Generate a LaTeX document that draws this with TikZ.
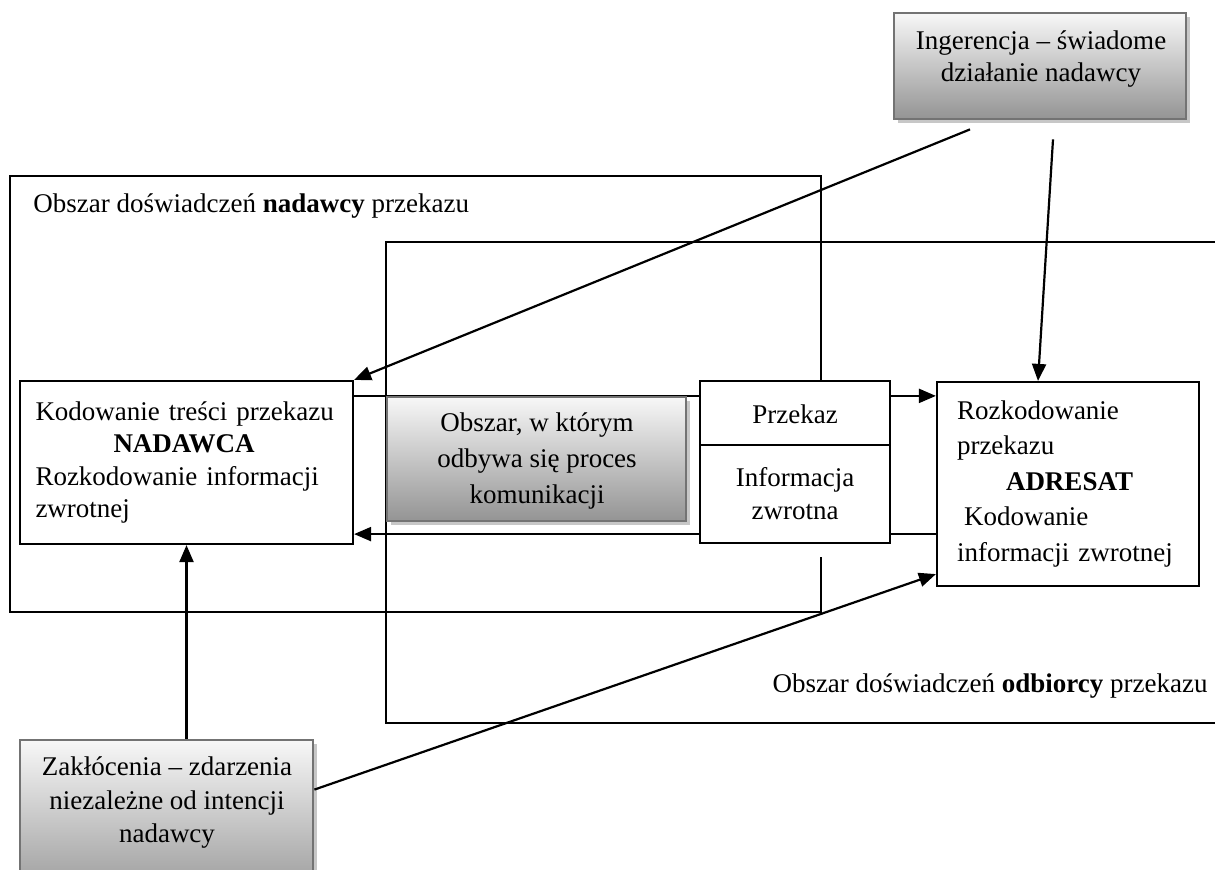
\documentclass[tikz,border=0pt]{standalone}
\usepackage{fontspec}
\setmainfont{Liberation Serif}
\usetikzlibrary{arrows.meta,calc,shadows}
\pgfdeclarelayer{back}
\pgfsetlayers{back,main}
\begin{document}
\begin{tikzpicture}[x=0.5pt,y=-0.5pt,
  ln/.style={line width=1.1pt},
  arr/.style={line width=1.1pt,-{Triangle[length=8.5pt,width=7pt]}},
  wbox/.style={draw,line width=1.1pt,fill=white,inner sep=0pt},
  gbox/.style={draw=black!55,line width=1.4pt,inner sep=0pt,top color=black!3,bottom color=black!42,
    drop shadow={shadow xshift=2.2pt,shadow yshift=-2.2pt,fill=black!22,opacity=1}},
  txt/.style={inner sep=0pt},
  f/.style={font=\fontsize{13.5}{#1}\selectfont,
    execute at begin node={\baselineskip=#1pt\relax}}
]
\useasboundingbox (0,0) rectangle (1215,870);
\clip (0,0) rectangle (1215,870);

% white boxes
\node[wbox,f=16.25,minimum width=166.5pt,minimum height=81.5pt,text width=151pt,align=left] (nad) at (186.5,462.5)
  {Kodowanie treści przekazu\\\hspace*{39pt}\textbf{NADAWCA}\\Rozkodowanie informacji\\zwrotnej};
\node[wbox,f=16.5,minimum width=95pt,minimum height=33pt] (prz) at (795,414) {Przekaz};
\node[wbox,f=16.5,minimum width=95pt,minimum height=49pt,align=center] (inf) at (795,494) {Informacja\\zwrotna};
\node[wbox,f=17.75,minimum width=131pt,minimum height=102pt,text width=111pt,align=left] (adr) at (1068,484)
  {Rozkodowanie\\przekazu\\\hspace*{24.5pt}\textbf{ADRESAT}\\\hspace*{3.5pt}Kodowanie\\informacji zwrotnej};

% gray boxes
\node[gbox,minimum width=146pt,minimum height=53pt] (ing) at (1040,66) {};
\node[txt,f=16,align=center] (ingt) at (1041,59) {Ingerencja – świadome\\działanie nadawcy};
\node[gbox,minimum width=149.5pt,minimum height=62pt] (mid) at (536.5,459) {};
\node[txt,f=18,align=center] (midt) at (537,461) {Obszar, w którym\\odbywa się proces\\komunikacji};
\node[gbox,minimum width=146.5pt,minimum height=82.5pt] (zak) at (166.5,822.5) {};
\node[txt,f=16.75,align=center] (zakt) at (167,803) {Zakłócenia – zdarzenia\\niezależne od intencji\\nadawcy};

% area labels
\node[txt,f=16,anchor=west] (lnad) at (33,206) {Obszar doświadczeń \textbf{nadawcy} przekazu};
\node[txt,f=16,anchor=east] (lodb) at (1208,686) {Obszar doświadczeń \textbf{odbiorcy} przekazu};

\coordinate (ya) at ($(prz.north west)+(0,16)$);
\coordinate (yb) at ($(inf.south west)+(0,-10)$);

\begin{pgfonlayer}{back}
  % sender area
  \draw[ln] (prz.north -| 821,0) -- (821,176) -- (10,176) -- (10,612) -- (821,612) -- (821,557);
  % receiver area
  \draw[ln] (1240,242) -- (386,242) -- (386,723) -- (1240,723);
  % nadawca -> przekaz line
  \draw[ln] (ya -| nad.east) -- (ya);
\end{pgfonlayer}

% connectors
\draw[arr] (ya -| prz.east) -- (ya -| adr.west);
\draw[ln] (yb -| adr.west) -- (yb -| inf.east);
\draw[arr] (yb -| inf.west) -- (yb -| nad.east);
\draw[arr] ($(ing.south)+(-70,9)$) -- (nad.north east);
\draw[arr] ($(ing.south)+(13,19)$) -- ($(adr.north)+(-30,0)$);
\draw[arr] (zak.north -| nad.south) -- (nad.south);
\draw[arr] ($(zak.north east)+(0,51)$) -- ($(adr.south west)+(0,-13)$);
\end{tikzpicture}
\end{document}
